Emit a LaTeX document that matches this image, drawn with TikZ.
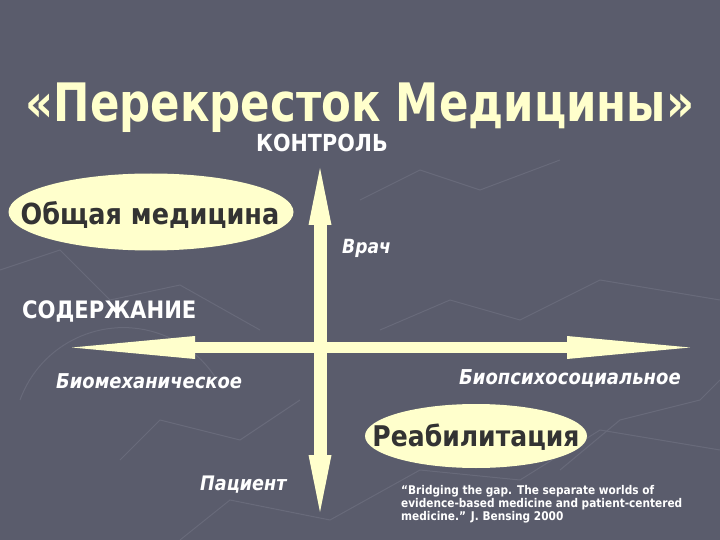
\documentclass[tikz,border=0pt]{standalone}
\usepackage{fontspec}
\setmainfont{DejaVu Sans}[FakeStretch=0.88]
\newfontfamily\titlefont{DejaVu Sans}[FakeStretch=0.82]
\usetikzlibrary{arrows.meta,shapes.geometric}
\definecolor{slidebg}{RGB}{90,92,108}
\definecolor{mapline}{RGB}{104,106,122}
\definecolor{paleyellow}{RGB}{255,255,204}
\definecolor{inkgrey}{RGB}{51,51,51}
\tikzset{
  axisarrow/.style={paleyellow, line width=#1},
  bubble/.style={ellipse, fill=paleyellow, inner sep=0pt, text=inkgrey},
  pole/.style={white, font=\bfseries\itshape, inner sep=0pt},
  heading/.style={white, font=\bfseries, inner sep=0pt},
  faint/.style={mapline, line width=1pt},
}
\newcommand{\fs}[1]{\fontsize{#1}{1.2\dimexpr#1pt\relax}\selectfont}

\begin{document}
\begin{tikzpicture}[x=1pt,y=-1pt]
    \def\W{720}
    \def\H{540}
    \def\midx{320}
    \def\midy{347.5}
    % background
    \fill[slidebg] (0,0) rectangle (\W,\H);
    \useasboundingbox (0,0) rectangle (\W,\H);
    % faint map lines
    \draw[faint] (0,270) -- (60,250) -- (110,300) -- (180,285) -- (260,330);
    \draw[faint] (120,460) -- (160,420) -- (240,440) -- (300,400);
    \draw[faint] (180,540) -- (230,500) -- (330,520) -- (420,470) -- (520,480) -- (600,430) -- (720,450);
    \draw[faint] (380,330) -- (450,300) -- (520,320) -- (600,280) -- (720,300);
    \draw[faint] (560,470) -- (620,420) -- (700,400) -- (720,380);
    \draw[faint] (360,200) -- (420,170) -- (480,190) -- (560,160);
    \draw[faint] (20,400) arc[start angle=200, end angle=330, radius=110];
    % title
    \node (title) [anchor=base, paleyellow, inner sep=0pt, font=\titlefont\bfseries\fs{53}] at (360,122) {«Перекресток Медицины»};
    % axes
    \coordinate (top) at (\midx,168);
    \coordinate (bottom) at (\midx,512);
    \coordinate (left) at (72,\midy);
    \coordinate (right) at (690,\midy);
    \draw[axisarrow=11pt, {Triangle[length=123pt,width=23pt,line width=0pt]}-{Triangle[length=123pt,width=23pt,line width=0pt]}] (left) -- (right);
    \draw[axisarrow=13pt, {Triangle[length=57pt,width=23pt,line width=0pt]}-{Triangle[length=57pt,width=23pt,line width=0pt]}] (bottom) -- (top);
    % axis titles
    \node (control) [heading, anchor=base, font=\bfseries\fs{23.5}] at (322,152) {КОНТРОЛЬ};
    \node (content) [heading, anchor=base west, font=\bfseries\fs{24}] at (22,318) {СОДЕРЖАНИЕ};
    % poles
    \node (doctor) [pole, anchor=base west, font=\bfseries\itshape\fs{19.5}] at (342,254) {Врач};
    \node (patient) [pole, anchor=base west, font=\bfseries\itshape\fs{20}] at (200,490) {Пациент};
    \node (biomech) [pole, anchor=base west, font=\bfseries\itshape\fs{20.4}] at (56,388) {Биомеханическое};
    \node (biopsy) [pole, anchor=base east, font=\bfseries\itshape\fs{20.5}] at (681,384) {Биопсихосоциальное};
    % ellipses
    \node (general) [bubble, minimum width=285pt, minimum height=77pt] at (151,212) {};
    \node [text=inkgrey, anchor=base, inner sep=0pt, font=\bfseries\fs{29}] at (150,225) {Общая медицина};
    \node (rehab) [bubble, minimum width=222pt, minimum height=64pt] at (476,436) {};
    \node [text=inkgrey, anchor=base, inner sep=0pt, font=\bfseries\fs{28.5}] at (476,446) {Реабилитация};
    % quote
    \node (quote) [white, anchor=north west, inner sep=0pt, align=left, font=\bfseries\fontsize{12}{13}\selectfont] at (401,485)
        {“Bridging the gap. The separate worlds of\\evidence-based medicine and patient-centered\\medicine.” J. Bensing 2000};
\end{tikzpicture}
\end{document}
